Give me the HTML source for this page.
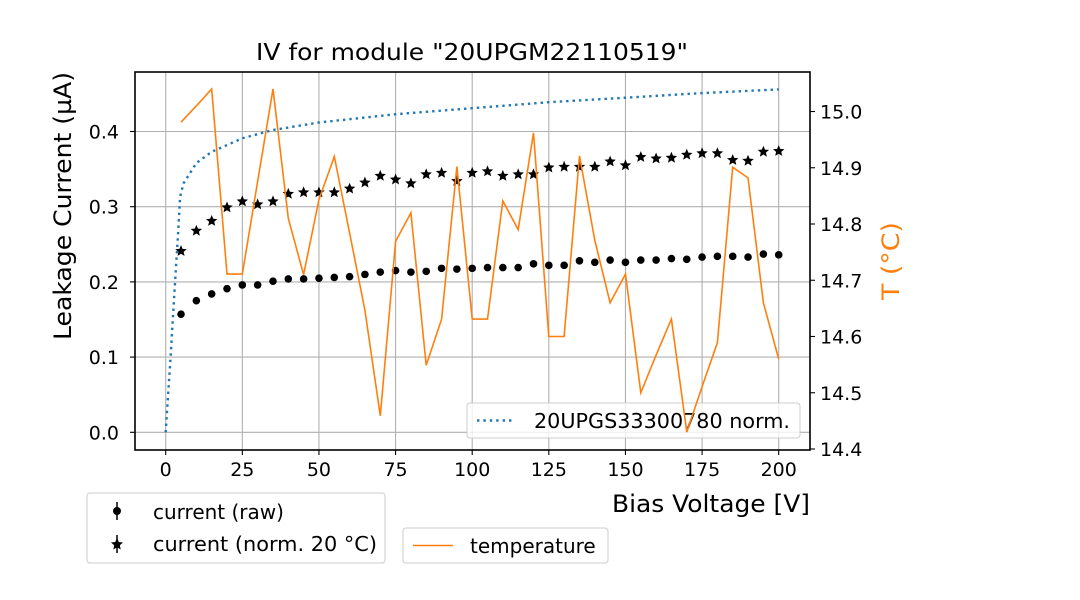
<!DOCTYPE html>
<html><head><meta charset="utf-8"><style>
html,body{margin:0;padding:0;background:#fff;}
svg{display:block;font-family:"DejaVu Sans","Liberation Sans",sans-serif;}
</style></head><body>
<svg id="chart" width="1080" height="600" viewBox="0 0 1080 600" xmlns="http://www.w3.org/2000/svg">
<rect x="0" y="0" width="1080" height="600" fill="#fff"/>
<g id="grid"></g>
<g id="series"></g>
<g id="legend-in"></g>
<g id="temp"></g>
<g id="axes"></g>
</svg>
<script>
const voltages=[5,10,15,20,25,30,35,40,45,50,55,60,65,70,75,80,85,90,95,100,105,110,115,120,125,130,135,140,145,150,155,160,165,170,175,180,185,190,195,200];
const currentRaw=[0.157,0.175,0.184,0.191,0.196,0.196,0.201,0.204,0.204,0.205,0.206,0.207,0.210,0.213,0.215,0.213,0.214,0.218,0.217,0.218,0.219,0.219,0.219,0.224,0.222,0.222,0.228,0.226,0.229,0.226,0.229,0.229,0.231,0.230,0.233,0.234,0.234,0.233,0.237,0.236];
const currentNorm=[0.241,0.268,0.281,0.299,0.307,0.303,0.307,0.317,0.319,0.319,0.319,0.324,0.332,0.341,0.336,0.331,0.343,0.345,0.334,0.345,0.347,0.341,0.343,0.343,0.352,0.353,0.353,0.353,0.360,0.355,0.366,0.364,0.365,0.369,0.371,0.371,0.362,0.361,0.373,0.374];
const temperature=[14.981,15.01,15.04,14.711,14.711,14.875,15.04,14.81,14.71,14.843,14.92,14.784,14.647,14.459,14.769,14.82,14.549,14.631,14.902,14.631,14.631,14.841,14.79,14.962,14.6,14.6,14.921,14.771,14.66,14.711,14.5,14.567,14.631,14.43,14.511,14.589,14.901,14.882,14.66,14.56];
const refV=[0,0.87,1.6,2.5,3.3,4.1,4.7,5.8,10,15,25,35,50,75,100,125,150,175,200];
const refI=[0.0,0.056,0.100,0.163,0.216,0.269,0.313,0.331,0.358,0.373,0.391,0.402,0.412,0.423,0.431,0.439,0.445,0.451,0.456];
const xTicks=[0,25,50,75,100,125,150,175,200];
const yTicks=[0.0,0.1,0.2,0.3,0.4];
const tTicks=[14.4,14.5,14.6,14.7,14.8,14.9,15.0];

const L=135,R=810,T=72,B=450;
const X=v=>165.7+v*3.065;
const Y=i=>432.3-i*752;
const YT=t=>449-(t-14.4)*562.5;
const NS="http://www.w3.org/2000/svg";
function mk(tag,parent,attrs,text){const e=document.createElementNS(NS,tag);for(const k in attrs)e.setAttribute(k,attrs[k]);if(text!==undefined)e.textContent=text;parent.appendChild(e);return e;}
const g=document.getElementById('grid'),s=document.getElementById('series'),li=document.getElementById('legend-in'),tg=document.getElementById('temp'),ax=document.getElementById('axes');

xTicks.forEach(v=>{const e=mk('line',g,{x1:X(v),x2:X(v),y1:T,y2:B,stroke:'#b0b0b0','stroke-width':1.1});

});
yTicks.forEach(v=>{const e=mk('line',g,{x1:L,x2:R,y1:Y(v),y2:Y(v),stroke:'#b0b0b0','stroke-width':1.1});

});

const refPath=mk('path',s,{d:refV.map((v,i)=>(i?'L':'M')+X(v).toFixed(1)+','+Y(refI[i]).toFixed(1)).join(''),fill:'none',stroke:'#1f77b4','stroke-width':2.4,'stroke-dasharray':'2.4,4'});



voltages.forEach((v,i)=>{const c=mk('circle',s,{cx:X(v),cy:Y(currentRaw[i]),r:3.8,fill:'#000'});

});
function star(cx,cy,r){let p=[];for(let k=0;k<10;k++){const a=-Math.PI/2+k*Math.PI/5;const rr=k%2?r*0.45:r;p.push((cx+rr*Math.cos(a)).toFixed(1)+','+(cy+rr*Math.sin(a)).toFixed(1));}return p.join(' ');}
voltages.forEach((v,i)=>{const p=mk('polygon',s,{points:star(X(v),Y(currentNorm[i]),6),fill:'#000'});

});

const lb=mk('rect',li,{x:467,y:403,width:333,height:35,rx:3,fill:'#fff','fill-opacity':0.8,stroke:'#ccc'});


mk('line',li,{x1:477,x2:514,y1:420.5,y2:420.5,stroke:'#1f77b4','stroke-width':2.4,'stroke-dasharray':'2.4,4'});
const lt=mk('text',li,{x:534,y:428,'font-size':20.5,fill:'#000',textLength:256,lengthAdjust:'spacingAndGlyphs'},'20UPGS33300780 norm.');



const tp=mk('path',tg,{d:voltages.map((v,i)=>(i?'L':'M')+X(v).toFixed(1)+','+YT(temperature[i]).toFixed(1)).join(''),fill:'none',stroke:'#ff7f0e','stroke-width':1.6,'stroke-linejoin':'miter'});



const fr=mk('rect',ax,{x:L,y:T,width:R-L,height:B-T,fill:'none',stroke:'#000','stroke-width':1.6});


xTicks.forEach(v=>{mk('line',ax,{x1:X(v),x2:X(v),y1:B,y2:B+5,stroke:'#000','stroke-width':1.1});
const t=mk('text',ax,{x:X(v),y:476,'font-size':19,'text-anchor':'middle'},String(v));

});
yTicks.forEach(v=>{mk('line',ax,{x1:L-5,x2:L,y1:Y(v),y2:Y(v),stroke:'#000','stroke-width':1.1});
const t=mk('text',ax,{x:L-16,y:Y(v)+7,'font-size':19,'text-anchor':'end'},v.toFixed(1));

});
tTicks.forEach(v=>{mk('line',ax,{x1:R,x2:R+5,y1:YT(v),y2:YT(v),stroke:'#000','stroke-width':1.1});
const t=mk('text',ax,{x:R+10,y:YT(v)+7,'font-size':19,'text-anchor':'start'},v.toFixed(1));

});
</script>
<svg style="position:absolute;left:0;top:0" width="1080" height="600">
<text x="472" y="60" font-size="23" text-anchor="middle" textLength="432" lengthAdjust="spacingAndGlyphs" font-family="DejaVu Sans, Liberation Sans, sans-serif">IV for module "20UPGM22110519"</text>
<text x="810" y="512" font-size="24" text-anchor="end" textLength="198" lengthAdjust="spacingAndGlyphs" font-family="DejaVu Sans, Liberation Sans, sans-serif">Bias Voltage [V]</text>
<text transform="translate(71,206) rotate(-90)" font-size="24" text-anchor="middle" textLength="268" lengthAdjust="spacingAndGlyphs" font-family="DejaVu Sans, Liberation Sans, sans-serif">Leakage Current (µA)</text>
<text transform="translate(899,261) rotate(-90)" font-size="24" text-anchor="middle" textLength="78" lengthAdjust="spacingAndGlyphs" fill="#ff7f0e" font-family="DejaVu Sans, Liberation Sans, sans-serif">T (°C)</text>
<g>
<rect x="87" y="493" width="298" height="70" rx="3" fill="#fff" stroke="#ccc"/>
<line x1="117" y1="502" x2="117" y2="520" stroke="#000" stroke-width="1.5"/>
<circle cx="117" cy="511" r="4" fill="#000"/>
<text x="153" y="519" font-size="20" font-family="DejaVu Sans, Liberation Sans, sans-serif">current (raw)</text>
<line x1="117" y1="535" x2="117" y2="553" stroke="#000" stroke-width="1.5"/>
<polygon points="117,538 118.8,542 123,542.5 119.8,545.2 120.7,549.5 117,547.3 113.3,549.5 114.2,545.2 111,542.5 115.2,542" fill="#000"/>
<text x="153" y="551" font-size="20" textLength="224" lengthAdjust="spacingAndGlyphs" font-family="DejaVu Sans, Liberation Sans, sans-serif">current (norm. 20 °C)</text>
</g>
<g>
<rect x="403" y="528" width="205" height="35" rx="3" fill="#fff" stroke="#ccc"/>
<line x1="413" y1="545.5" x2="453" y2="545.5" stroke="#ff7f0e" stroke-width="1.6"/>
<text x="470" y="553" font-size="20" font-family="DejaVu Sans, Liberation Sans, sans-serif">temperature</text>
</g>
</svg>
</body></html>
